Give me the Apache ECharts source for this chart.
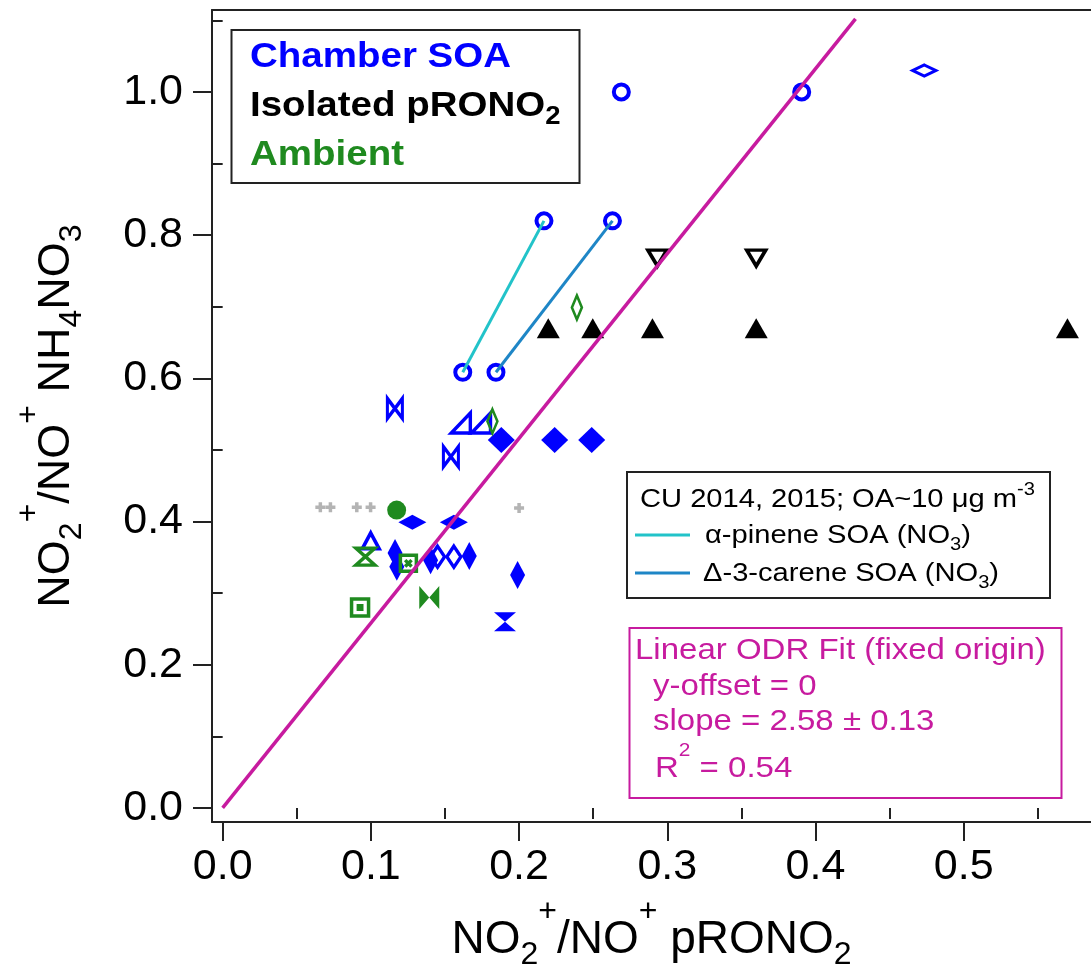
<!DOCTYPE html>
<html>
<head>
<meta charset="utf-8">
<script src="https://cdn.jsdelivr.net/npm/echarts@6/dist/echarts.min.js"></script>
<style>
  html, body { margin: 0; padding: 0; background: #fff; }
  #chart { width: 1091px; height: 972px; }
</style>
</head>
<body>
<div id="chart"></div>
<script>
// axis ranges / ticks
const xRange = [-0.0072, 0.5859]
const yRange = [-0.0196, 1.1145]
const xMajor = [0, 0.1, 0.2, 0.3, 0.4, 0.5]
const xMinor = [0.05, 0.15, 0.25, 0.35, 0.45, 0.55]
const yMajor = [0, 0.2, 0.4, 0.6, 0.8, 1.0]
const yMinor = [0.1, 0.3, 0.5, 0.7, 0.9, 1.1]

// Chamber SOA (blue)
const chamberCircleOpen = [[0.162, 0.6085], [0.2168, 0.82], [0.1844, 0.6085], [0.263, 0.82], [0.269, 1.0], [0.3907, 1.0]]
const chamberDiamondWideOpen = [[0.4734, 1.03]]
const chamberBowtieOpen = [[0.1162, 0.558], [0.154, 0.4907]]
const chamberRightTriOpen = [[0.1607, 0.5377], [0.1743, 0.5377]]
const chamberDiamondFilled = [[0.188, 0.514], [0.224, 0.514], [0.249, 0.514]]
const chamberDiamondWideFilled = [[0.128, 0.399], [0.156, 0.399]]
const chamberTriOpen = [[0.0999, 0.373]]
const chamberDiamondTallFilled = [[0.1163, 0.356], [0.1175, 0.337], [0.1403, 0.346], [0.1664, 0.352], [0.199, 0.3254]]
const chamberDiamondOpen = [[0.145, 0.351], [0.156, 0.351]]
const chamberHourglassFilled = [[0.1905, 0.26]]

// Isolated pRONO2 (black)
const isolatedTriFilled = [[0.2197, 0.67], [0.2497, 0.67], [0.29, 0.67], [0.36, 0.67], [0.57, 0.67]]
const isolatedTriDownOpen = [[0.2933, 0.768], [0.36, 0.768]]

// Ambient (green)
const ambientThinDiamondOpen = [[0.182, 0.54], [0.239, 0.699]]
const ambientCircleFilled = [[0.1174, 0.416]]
const ambientHourglassOpen = [[0.0963, 0.351]]
const ambientSquareX = [[0.1253, 0.3417]]
const ambientBowtieFilled = [[0.1394, 0.294]]
const ambientSquareDot = [[0.0927, 0.28]]

// grey crosses
const greyPlus = [[0.0659, 0.42], [0.0727, 0.42], [0.0905, 0.42], [0.0998, 0.42], [0.2, 0.419]]

// CU 2014, 2015 lines
const alphaPineneLine = [[0.162, 0.6085], [0.2168, 0.82]]
const careneLine = [[0.1844, 0.6085], [0.263, 0.82]]

// ODR fit through origin, slope 2.58
const fitLine = [[0, 0], [0.427, 1.102]]

const FONT = '"Liberation Sans", Arial, sans-serif'
const BLUE = "#0000ff"
const GREEN = "#1f8a1f"
const MAGENTA = "#c71b9f"
const AXIS = "#222"

// marker shapes
const BOWTIE = "path://M0,0 L0,10 L5,5 Z M10,0 L10,10 L5,5 Z"
const HOURGLASS = "path://M0,0 L10,0 L5,5 Z M0,10 L10,10 L5,5 Z"
const RIGHT_TRI = "path://M0,10 L10,10 L10,0 Z"
const SQUARE_X = "path://M0,0 L10,0 L10,10 L0,10 Z M3,3 L7,7 M7,3 L3,7"
const SQUARE_DOT = "path://M0,0 L10,0 L10,10 L0,10 Z M4,4 L6,4 L6,6 L4,6 Z"
const PLUS = "path://M0,5 L10,5 M5,0 L5,10"

function marker(name, data, symbol, size, color, opt = {}) {
  return {
    name,
    type: "scatter",
    data,
    symbol,
    symbolSize: size,
    symbolRotate: opt.rotate || 0,
    z: opt.z || 3,
    silent: true,
    emphasis: { disabled: true },
    itemStyle: opt.open
      ? { color: "rgba(0,0,0,0)", borderColor: color, borderWidth: opt.bw || 3.5, opacity: 1 }
      : { color, borderWidth: 0, opacity: 1 },
  }
}

function line(data, color, z, width) {
  return {
    type: "line",
    data,
    symbol: "none",
    silent: true,
    z,
    lineStyle: { color, width: width || 3 },
  }
}

const nameRich = (size) => ({
  m: { fontSize: size, fontFamily: FONT, color: "#000", lineHeight: 60, verticalAlign: "middle" },
  sub: { fontSize: 32, fontFamily: FONT, color: "#000", lineHeight: 30, height: 30, verticalAlign: "bottom" },
  sup: { fontSize: 32, fontFamily: FONT, color: "#000", lineHeight: 4, height: 4, verticalAlign: "top" },
})

const tickLabel = {
  fontSize: 43,
  fontFamily: FONT,
  color: "#000",
  formatter: (v) => v.toFixed(1),
}

const option = {
  animation: false,
  backgroundColor: "#fff",
  grid: { left: 212, right: 0, top: 10, bottom: 150, containLabel: false, outerBoundsMode: "none" },
  xAxis: [
    {
      type: "value",
      min: xRange[0],
      max: xRange[1],
      position: "bottom",
      name: "{m|NO}{sub|2}{sup|+}{m|/NO}{sup|+}{m| pRONO}{sub|2}",
      nameLocation: "middle",
      nameGap: 88,
      nameMoveOverlap: false,
      nameTextStyle: { rich: nameRich(46) },
      axisLine: { show: true, onZero: false, lineStyle: { color: AXIS, width: 2 } },
      axisTick: { show: true, inside: false, length: 19, customValues: xMajor, lineStyle: { color: AXIS, width: 2 } },
      axisLabel: { ...tickLabel, customValues: xMajor, margin: 24 },
      splitLine: { show: false },
    },
    {
      type: "value",
      min: xRange[0],
      max: xRange[1],
      position: "bottom",
      axisLine: { show: false },
      axisTick: { show: true, inside: false, length: 11, customValues: xMinor, lineStyle: { color: AXIS, width: 2 } },
      axisLabel: { show: false },
      splitLine: { show: false },
    },
    {
      type: "value",
      min: xRange[0],
      max: xRange[1],
      position: "top",
      axisLine: { show: true, onZero: false, lineStyle: { color: AXIS, width: 2 } },
      axisTick: { show: false },
      axisLabel: { show: false },
      splitLine: { show: false },
    },
  ],
  yAxis: [
    {
      type: "value",
      min: yRange[0],
      max: yRange[1],
      position: "left",
      name: "{m|NO}{sub|2}{sup|+}{m|/NO}{sup|+}{m| NH}{sub|4}{m|NO}{sub|3}",
      nameLocation: "middle",
      nameRotate: 90,
      nameGap: 125,
      nameMoveOverlap: false,
      nameTextStyle: { rich: nameRich(45) },
      axisLine: { show: true, onZero: false, lineStyle: { color: AXIS, width: 2 } },
      axisTick: { show: true, inside: false, length: 19, customValues: yMajor, lineStyle: { color: AXIS, width: 2 } },
      axisLabel: { ...tickLabel, customValues: yMajor, margin: 29 },
      splitLine: { show: false },
    },
    {
      type: "value",
      min: yRange[0],
      max: yRange[1],
      position: "left",
      axisLine: { show: false },
      axisTick: { show: true, inside: false, length: 10, customValues: yMinor, lineStyle: { color: AXIS, width: 2 } },
      axisLabel: { show: false },
      splitLine: { show: false },
    },
  ],
  series: [
    marker("grey", greyPlus, PLUS, 10, "#b4b4b4", { open: true, bw: 3.5 }),
    // chamber SOA
    marker("c1", chamberCircleOpen, "circle", 15, BLUE, { open: true, bw: 4 }),
    marker("c2", chamberDiamondWideOpen, "diamond", [23, 11], BLUE, { open: true }),
    marker("c3", chamberBowtieOpen, BOWTIE, [15, 20], BLUE, { open: true }),
    marker("c4", chamberRightTriOpen, RIGHT_TRI, [19, 20], BLUE, { open: true }),
    marker("c5", chamberDiamondFilled, "diamond", [27, 26], BLUE),
    marker("c6", chamberDiamondWideFilled, "diamond", [28, 15], BLUE),
    marker("c7", chamberTriOpen, "triangle", [17, 16], BLUE, { open: true }),
    marker("c8", chamberDiamondTallFilled, "diamond", [15, 28], BLUE),
    marker("c9", chamberDiamondOpen, "diamond", [14, 21], BLUE, { open: true }),
    marker("c10", chamberHourglassFilled, HOURGLASS, [22, 19], BLUE),
    // isolated pRONO2
    marker("i1", isolatedTriFilled, "triangle", [23, 20], "#000"),
    marker("i2", isolatedTriDownOpen, "triangle", [19, 16], "#000", { open: true, rotate: 180 }),
    // ambient
    marker("a1", ambientThinDiamondOpen, "diamond", [10, 24], GREEN, { open: true, bw: 3 }),
    marker("a2", ambientCircleFilled, "circle", 19, GREEN),
    marker("a3", ambientHourglassOpen, HOURGLASS, [19, 17], GREEN, { open: true }),
    marker("a4", ambientSquareX, SQUARE_X, 16, GREEN, { open: true }),
    marker("a5", ambientBowtieFilled, BOWTIE, [20, 23], GREEN),
    marker("a6", ambientSquareDot, SQUARE_DOT, 17, GREEN, { open: true }),
    // lines
    line(alphaPineneLine, "#22c3c9", 4, 3),
    line(careneLine, "#1e86c6", 4, 3),
    line(fitLine, MAGENTA, 5, 3.5),
  ],
  graphic: [
    // title box
    {
      type: "rect", z: 100,
      shape: { x: 231.5, y: 30, width: 348, height: 153 },
      style: { fill: "#fff", stroke: AXIS, lineWidth: 2 },
    },
    {
      type: "text", z: 101, x: 250, y: 57, scaleX: 1.1,
      style: { text: "Chamber SOA", font: "bold 35px " + FONT, fill: BLUE, verticalAlign: "middle" },
    },
    {
      type: "text", z: 101, x: 250, y: 106, scaleX: 1.1,
      style: {
        text: "{m|Isolated pRONO}{s|2}",
        verticalAlign: "middle",
        rich: {
          m: { fontSize: 35, fontWeight: "bold", fontFamily: FONT, fill: "#000", lineHeight: 44, verticalAlign: "middle" },
          s: { fontSize: 25, fontWeight: "bold", fontFamily: FONT, fill: "#000", lineHeight: 22, height: 22, verticalAlign: "bottom" },
        },
      },
    },
    {
      type: "text", z: 101, x: 250, y: 155, scaleX: 1.1,
      style: { text: "Ambient", font: "bold 35px " + FONT, fill: GREEN, verticalAlign: "middle" },
    },
    // CU legend box
    {
      type: "rect", z: 100,
      shape: { x: 627, y: 472, width: 423, height: 126 },
      style: { fill: "#fff", stroke: AXIS, lineWidth: 2 },
    },
    {
      type: "text", z: 101, x: 640, y: 500, scaleX: 1.12,
      style: {
        text: "{m|CU 2014, 2015; OA~10 μg m}{p|-3}",
        verticalAlign: "middle",
        rich: {
          m: { fontSize: 26, fontFamily: FONT, fill: "#000", lineHeight: 34, verticalAlign: "middle" },
          p: { fontSize: 18, fontFamily: FONT, fill: "#000", lineHeight: 14, height: 14, verticalAlign: "top" },
        },
      },
    },
    {
      type: "line", z: 101,
      shape: { x1: 635, y1: 535, x2: 690, y2: 535 },
      style: { stroke: "#22c3c9", lineWidth: 3 },
    },
    {
      type: "line", z: 101,
      shape: { x1: 635, y1: 573, x2: 690, y2: 573 },
      style: { stroke: "#1e86c6", lineWidth: 3 },
    },
    {
      type: "text", z: 101, x: 705, y: 536, scaleX: 1.12,
      style: {
        text: "{m|α-pinene SOA (NO}{s|3}{m|)}",
        verticalAlign: "middle",
        rich: {
          m: { fontSize: 26, fontFamily: FONT, fill: "#000", lineHeight: 34, verticalAlign: "middle" },
          s: { fontSize: 18, fontFamily: FONT, fill: "#000", lineHeight: 16, height: 16, verticalAlign: "bottom" },
        },
      },
    },
    {
      type: "text", z: 101, x: 703, y: 574, scaleX: 1.12,
      style: {
        text: "{m|Δ-3-carene SOA (NO}{s|3}{m|)}",
        verticalAlign: "middle",
        rich: {
          m: { fontSize: 26, fontFamily: FONT, fill: "#000", lineHeight: 34, verticalAlign: "middle" },
          s: { fontSize: 18, fontFamily: FONT, fill: "#000", lineHeight: 16, height: 16, verticalAlign: "bottom" },
        },
      },
    },
    // fit box
    {
      type: "rect", z: 100,
      shape: { x: 629.5, y: 628, width: 432, height: 170 },
      style: { fill: "#fff", stroke: MAGENTA, lineWidth: 2 },
    },
    {
      type: "text", z: 101, x: 635, y: 651, scaleX: 1.1,
      style: { text: "Linear ODR Fit (fixed origin)", font: "30px " + FONT, fill: MAGENTA, verticalAlign: "middle" },
    },
    {
      type: "text", z: 101, x: 653, y: 687, scaleX: 1.1,
      style: { text: "y-offset = 0", font: "30px " + FONT, fill: MAGENTA, verticalAlign: "middle" },
    },
    {
      type: "text", z: 101, x: 653, y: 722, scaleX: 1.1,
      style: { text: "slope = 2.58 ± 0.13", font: "30px " + FONT, fill: MAGENTA, verticalAlign: "middle" },
    },
    {
      type: "text", z: 101, x: 655, y: 769, scaleX: 1.1,
      style: {
        text: "{m|R}{p|2}{m| = 0.54}",
        verticalAlign: "middle",
        rich: {
          m: { fontSize: 30, fontFamily: FONT, fill: MAGENTA, lineHeight: 40, verticalAlign: "middle" },
          p: { fontSize: 19, fontFamily: FONT, fill: MAGENTA, lineHeight: 4, height: 4, verticalAlign: "top" },
        },
      },
    },
  ],
}

const chart = echarts.init(document.getElementById("chart"), null, { renderer: "canvas" })
chart.setOption(option)
</script>
</body>
</html>
